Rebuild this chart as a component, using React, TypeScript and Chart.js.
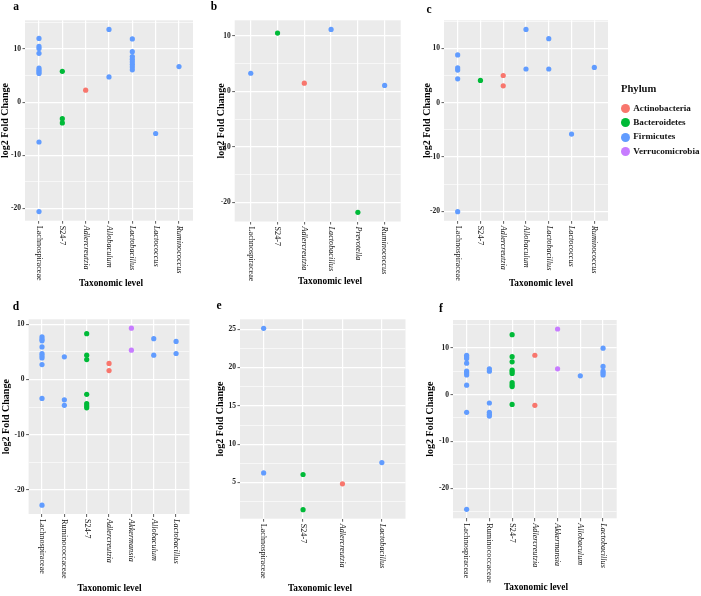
import React, { useEffect, useRef } from "react";
import { Chart, registerables } from "chart.js";

Chart.register(...registerables);

// ---------- data ----------
const PHYLA = ["Actinobacteria", "Bacteroidetes", "Firmicutes", "Verrucomicrobia"];
const PHYLUM_COLORS = ["#F8766D", "#00BA38", "#619CFF", "#C77CFF"];
const ACTINOBACTERIA_TAXA = ["Adlercreutzia"];
const BACTEROIDETES_TAXA = ["S24-7", "Prevotella"];
const VERRUCOMICROBIA_TAXA = ["Akkermansia"];
const ITALIC_TAXA = ["Adlercreutzia", "Allobaculum", "Lactobacillus", "Lactococcus", "Ruminococcus", "Prevotella", "Akkermansia"];

const aCategories = ["Lachnospiraceae", "S24-7", "Adlercreutzia", "Allobaculum", "Lactobacillus", "Lactococcus", "Ruminococcus"];
const aValues = [
  [12.0, 10.5, 10.1, 9.2, 6.4, 6.0, 5.7, 5.4, -7.5, -20.6],
  [5.8, -3.1, -3.9],
  [2.25],
  [13.7, 4.75],
  [11.9, 9.5, 8.6, 8.1, 7.6, 7.1, 6.6, 6.1],
  [-5.9],
  [6.7],
];

const bCategories = ["Lachnospiraceae", "S24-7", "Adlercreutzia", "Lactobacillus", "Prevotella", "Ruminococcus"];
const bValues = [[3.3], [10.55], [1.5], [11.2], [-21.8], [1.1]];

const cCategories = ["Lachnospiraceae", "S24-7", "Adlercreutzia", "Allobaculum", "Lactobacillus", "Lactococcus", "Ruminococcus"];
const cValues = [[8.8, 6.4, 6.0, 4.4, -20.1], [4.1], [5.0, 3.1], [13.5, 6.2], [11.8, 6.2], [-5.8], [6.5]];

const dCategories = ["Lachnospiraceae", "Ruminococcaceae", "S24-7", "Adlercreutzia", "Akkermansia", "Allobaculum", "Lactobacillus"];
const dValues = [
  [7.7, 7.3, 7.0, 5.9, 4.7, 4.3, 3.9, 2.7, -3.45, -22.8],
  [4.1, -3.7, -4.7],
  [8.3, 4.4, 3.6, -2.7, -4.4, -4.8, -5.15],
  [2.9, 1.6],
  [9.3, 5.3],
  [7.4, 4.4],
  [6.9, 4.7],
];

const eCategories = ["Lachnospiraceae", "S24-7", "Adlercreutzia", "Lactobacillus"];
const eValues = [[25.1, 6.26], [6.05, 1.47], [4.83], [7.6]];

const fCategories = ["Lachnospiraceae", "Ruminococcaceae", "S24-7", "Adlercreutzia", "Akkermansia", "Allobaculum", "Lactobacillus"];
const fValues = [
  [8.4, 8.0, 7.7, 6.7, 5.0, 4.6, 4.2, 2.0, -3.8, -24.5],
  [5.5, 5.0, -1.8, -3.8, -4.2, -4.6],
  [12.8, 8.1, 7.0, 5.25, 4.9, 4.5, 2.55, 2.1, 1.7, -2.1],
  [8.4, -2.3],
  [14.0, 5.5],
  [4.0],
  [9.9, 6.0, 5.0, 4.6, 4.2],
];

const Y_TITLE = "log2 Fold Change";
const X_TITLE = "Taxonomic level";
const LEGEND_TITLE = "Phylum";

// ---------- layout (positions / styles) ----------
const W = 701;
const H = 596;
const SERIF = "'Liberation Serif', 'Times New Roman', serif";

type Panel = {
  id: string;
  cats: string[];
  vals: number[][];
  major: number;
  plot: [number, number, number, number];
  yTitleX: number;
  xTitle: [number, number];
  letter: [number, number];
};

const PANELS: Panel[] = [
  { id: "a", cats: aCategories, vals: aValues, major: 10, plot: [25, 20.3, 193, 220.7], yTitleX: 5.5, xTitle: [111, 285], letter: [16, 7] },
  { id: "b", cats: bCategories, vals: bValues, major: 10, plot: [234.7, 20.3, 400.7, 221.5], yTitleX: 221, xTitle: [330, 283], letter: [214, 6.5] },
  { id: "c", cats: cCategories, vals: cValues, major: 10, plot: [444, 20.3, 608, 220.8], yTitleX: 427, xTitle: [541, 285], letter: [429, 9.5] },
  { id: "d", cats: dCategories, vals: dValues, major: 10, plot: [28.6, 319.3, 189.5, 514], yTitleX: 6.5, xTitle: [109.5, 590], letter: [16, 306.7] },
  { id: "e", cats: eCategories, vals: eValues, major: 5, plot: [240, 319.3, 405.5, 518.7], yTitleX: 220.5, xTitle: [320, 590], letter: [219, 306] },
  { id: "f", cats: fCategories, vals: fValues, major: 10, plot: [453, 320, 616.7, 518.3], yTitleX: 430.5, xTitle: [536, 589], letter: [441, 308.5] },
];

function phylumOf(cat: string): string {
  if (ACTINOBACTERIA_TAXA.includes(cat)) return "Actinobacteria";
  if (BACTEROIDETES_TAXA.includes(cat)) return "Bacteroidetes";
  if (VERRUCOMICROBIA_TAXA.includes(cat)) return "Verrucomicrobia";
  return "Firmicutes";
}

function isMajor(v: number, major: number) {
  const r = Math.abs(v / major - Math.round(v / major));
  return r < 1e-6;
}

function PanelChart({ p }: { p: Panel }) {
  const ref = useRef<HTMLCanvasElement | null>(null);
  useEffect(() => {
    if (!ref.current) return;
    const all = p.vals.flat();
    const lo = Math.min(...all);
    const hi = Math.max(...all);
    const ex = (hi - lo) * 0.05;
    const yMin = lo - ex;
    const yMax = hi + ex;
    const [pl, pt, pr, pb] = p.plot;
    const titleLH = 10;
    const scaleLeft = p.yTitleX - titleLH / 2;
    const yW = pl - scaleLeft;
    const xH = 4;

    const datasets = PHYLA.map((ph, k) => ({
      label: ph,
      data: p.cats.flatMap((c, i) => (phylumOf(c) === ph ? p.vals[i].map((v) => ({ x: i, y: v })) : [])),
      backgroundColor: PHYLUM_COLORS[k],
      borderWidth: 0,
      pointRadius: 2.6,
      pointHoverRadius: 2.6,
    }));

    const bgPlugin = {
      id: "panelBg",
      beforeDraw(chart: any) {
        const { ctx, chartArea: a } = chart;
        ctx.save();
        ctx.fillStyle = "#EBEBEB";
        ctx.fillRect(a.left, a.top, a.right - a.left, a.bottom - a.top);
        ctx.restore();
      },
    };
    const xLabelPlugin = {
      id: "xRotLabels",
      afterDraw(chart: any) {
        const { ctx, chartArea: a } = chart;
        const xs = chart.scales.x;
        ctx.save();
        ctx.fillStyle = "#111";
        ctx.textAlign = "left";
        ctx.textBaseline = "middle";
        p.cats.forEach((c, i) => {
          const x = xs.getPixelForValue(i);
          ctx.save();
          ctx.translate(x, a.bottom + 5);
          ctx.rotate(Math.PI / 2);
          ctx.font = `${ITALIC_TAXA.includes(c) ? "italic " : ""}8.2px ${SERIF}`;
          ctx.fillText(c, 0, 0);
          ctx.restore();
        });
        ctx.restore();
      },
    };

    const chart = new Chart(ref.current, {
      type: "scatter",
      data: { datasets },
      plugins: [bgPlugin, xLabelPlugin],
      options: {
        animation: false,
        responsive: false,
        events: [],
        layout: { padding: { left: scaleLeft, top: pt, right: W - pr, bottom: H - pb - xH } },
        plugins: { legend: { display: false }, tooltip: { enabled: false } },
        scales: {
          x: {
            type: "linear",
            min: -0.6,
            max: p.cats.length - 1 + 0.6,
            afterBuildTicks: (s: any) => {
              s.ticks = p.cats.map((_, i) => ({ value: i }));
            },
            afterFit: (s: any) => {
              s.height = xH;
            },
            ticks: { display: false },
            grid: { color: "#FFFFFF", lineWidth: 1.2, drawTicks: true, tickLength: 3, tickColor: "#333", tickWidth: 0.8 },
            border: { display: false },
          },
          y: {
            type: "linear",
            min: yMin,
            max: yMax,
            afterBuildTicks: (s: any) => {
              const h = p.major / 2;
              const t: { value: number }[] = [];
              for (let v = Math.ceil(yMin / h) * h; v <= yMax + 1e-9; v += h) t.push({ value: Math.round(v * 100) / 100 });
              s.ticks = t;
            },
            afterFit: (s: any) => {
              s.width = yW;
            },
            ticks: {
              autoSkip: false,
              padding: 1.5,
              color: "#222",
              font: { family: SERIF, size: 7.5, weight: "bold" },
              callback: (v: any) => (isMajor(Number(v), p.major) ? String(v) : ""),
            },
            grid: {
              color: "#FFFFFF",
              lineWidth: (ctx: any) => (ctx.tick && isMajor(ctx.tick.value, p.major) ? 1.2 : 0.6),
              drawTicks: true,
              tickLength: 2.5,
              tickWidth: 0.8,
              tickColor: (ctx: any) => (ctx.tick && isMajor(ctx.tick.value, p.major) ? "#333" : "rgba(0,0,0,0)"),
            },
            border: { display: false },
            title: {
              display: true,
              text: Y_TITLE,
              color: "#000",
              padding: 0,
              font: { family: SERIF, size: 10, weight: "bold", lineHeight: 1 },
            },
          },
        },
      } as any,
    });
    return () => chart.destroy();
  }, [p]);

  return (
    <canvas
      ref={ref}
      width={W}
      height={H}
      style={{ position: "absolute", left: 0, top: 0, width: W, height: H }}
    />
  );
}

function Legend() {
  const rowsY = [108.7, 122.9, 137.2, 151.5];
  return (
    <>
      <div
        style={{
          position: "absolute",
          left: 621,
          top: 90 - 7,
          lineHeight: "14px",
          font: `bold 10.6px ${SERIF}`,
          color: "#111",
          whiteSpace: "nowrap",
        }}
      >
        {LEGEND_TITLE}
      </div>
      {PHYLA.map((ph, k) => (
        <React.Fragment key={ph}>
          <div
            style={{
              position: "absolute",
              left: 625.7 - 4.6,
              top: rowsY[k] - 4.6,
              width: 9.2,
              height: 9.2,
              borderRadius: "50%",
              background: PHYLUM_COLORS[k],
            }}
          />
          <div
            style={{
              position: "absolute",
              left: 633.3,
              top: rowsY[k] - 6,
              lineHeight: "12px",
              font: `bold 9.1px ${SERIF}`,
              color: "#111",
              whiteSpace: "nowrap",
            }}
          >
            {ph}
          </div>
        </React.Fragment>
      ))}
    </>
  );
}

export default function App() {
  return (
    <div style={{ position: "absolute", left: 0, top: 0, width: W, height: H, background: "#fff", overflow: "hidden" }}>
      {PANELS.map((p) => (
        <PanelChart key={p.id} p={p} />
      ))}
      {PANELS.map((p) => (
        <React.Fragment key={p.id + "-t"}>
          <div
            style={{
              position: "absolute",
              left: p.xTitle[0] - 60,
              width: 120,
              top: p.xTitle[1] - 7,
              lineHeight: "14px",
              textAlign: "center",
              font: `bold 9.3px ${SERIF}`,
              color: "#000",
              whiteSpace: "nowrap",
            }}
          >
            {X_TITLE}
          </div>
          <div
            style={{
              position: "absolute",
              left: p.letter[0] - 10,
              width: 20,
              top: p.letter[1] - 7,
              lineHeight: "14px",
              textAlign: "center",
              font: `bold 11.5px ${SERIF}`,
              color: "#000",
            }}
          >
            {p.id}
          </div>
        </React.Fragment>
      ))}
      <Legend />
    </div>
  );
}
